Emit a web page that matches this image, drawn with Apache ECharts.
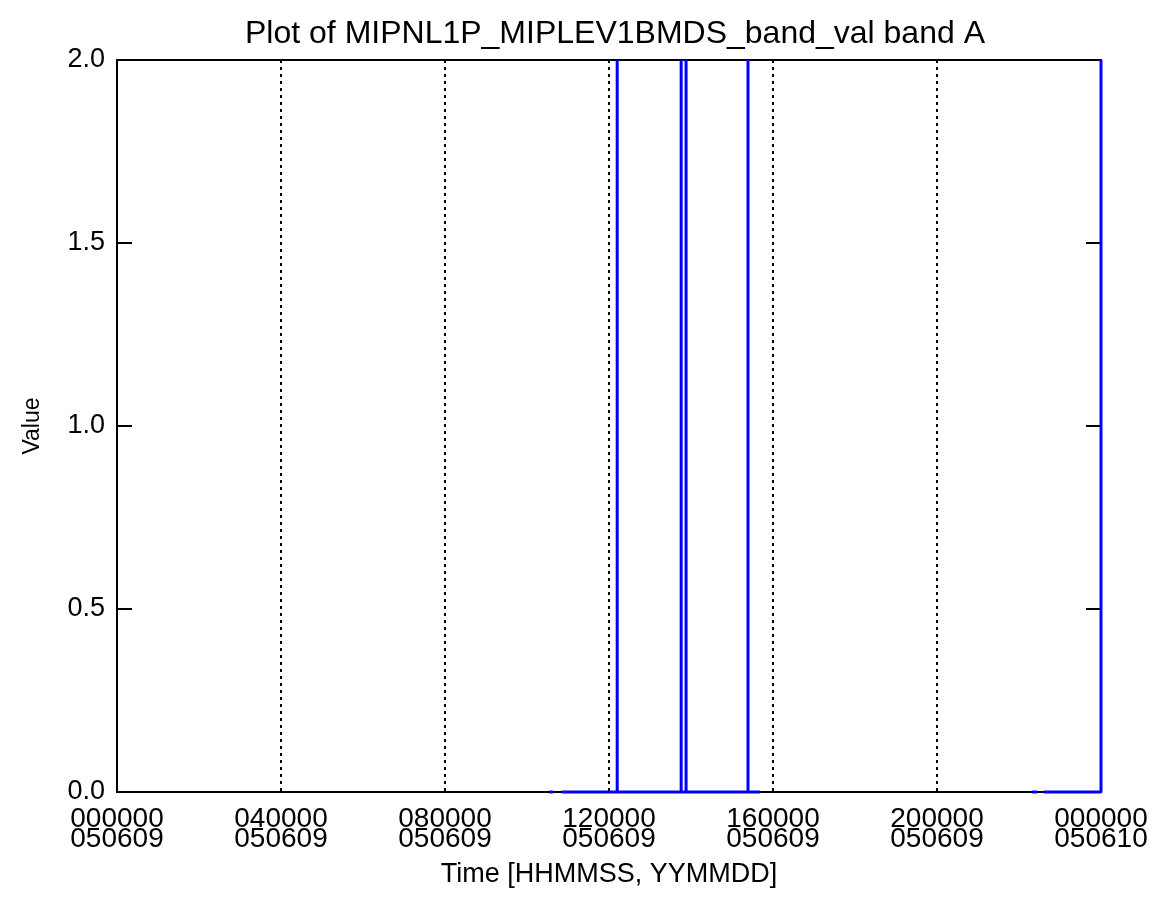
<!DOCTYPE html>
<html>
<head>
<meta charset="utf-8">
<script src="https://cdn.jsdelivr.net/npm/echarts@6/dist/echarts.min.js"></script>
<style>
  html, body { margin: 0; padding: 0; background: #fff; }
  #chart { width: 1160px; height: 907px; }
</style>
</head>
<body>
<div id="chart"></div>
<script>
// time in hours since 000000 050609, null marks a gap in the record
const timeHours = [10.54, 10.63, null,
  10.85, 12.20, 12.20, 12.20, 13.76, 13.76, 13.76, 13.88, 13.88, 13.88,
  15.39, 15.39, 15.39, 15.68, null,
  22.32, 22.44, null,
  22.61, 24.0, 24.0]
const bandValues = [0, 0, null,
  0, 0, 2, 0, 0, 2, 0, 0, 2, 0,
  0, 2, 0, 0, null,
  0, 0, null,
  0, 0, 2]
const xTickLabels = ['000000\n050609', '040000\n050609', '080000\n050609', '120000\n050609',
  '160000\n050609', '200000\n050609', '000000\n050610']
const yTickLabels = ['0.0', '0.5', '1.0', '1.5', '2.0']

const fontFamily = 'Liberation Sans'
const chart = echarts.init(document.getElementById('chart'))

const seriesData = timeHours.map((t, i) => (t === null ? '-' : [t, bandValues[i]]))

const frameLine = { show: true, onZero: false, lineStyle: { color: '#000', width: 2 } }

const option = {
  animation: false,
  backgroundColor: '#fff',
  title: {
    text: 'Plot of MIPNL1P_MIPLEV1BMDS_band_val band A',
    left: 610,
    textAlign: 'center',
    top: 13,
    textStyle: { fontFamily: fontFamily, fontWeight: 'normal', fontSize: 32, color: '#000' }
  },
  grid: { left: 117, right: 59, top: 60, bottom: 115 },
  xAxis: [
    {
      type: 'value',
      min: 0,
      max: 24,
      interval: 4,
      name: 'Time [HHMMSS, YYMMDD]',
      nameLocation: 'middle',
      nameGap: 69,
      nameTextStyle: { fontFamily: fontFamily, fontSize: 27, color: '#000' },
      axisLine: frameLine,
      axisTick: { show: false },
      axisLabel: {
        fontFamily: fontFamily,
        fontSize: 28,
        lineHeight: 20,
        color: '#000',
        margin: 17,
        formatter: v => xTickLabels[Math.round(v / 4)]
      },
      splitLine: { show: true, lineStyle: { color: '#000', width: 2, type: [3, 4] } }
    },
    {
      type: 'value',
      position: 'top',
      min: 0,
      max: 24,
      interval: 4,
      axisLine: frameLine,
      axisTick: { show: false },
      axisLabel: { show: false },
      splitLine: { show: false }
    }
  ],
  yAxis: [
    {
      type: 'value',
      min: 0,
      max: 2,
      interval: 0.5,
      name: 'Value',
      nameLocation: 'middle',
      nameGap: 73,
      nameTextStyle: { fontFamily: fontFamily, fontSize: 23, color: '#000' },
      axisLine: frameLine,
      axisTick: { show: true, inside: true, length: 15, lineStyle: { color: '#000', width: 2 } },
      axisLabel: {
        fontFamily: fontFamily,
        fontSize: 27,
        color: '#000',
        margin: 12,
        formatter: v => yTickLabels[Math.round(v / 0.5)]
      },
      splitLine: { show: false }
    },
    {
      type: 'value',
      position: 'right',
      min: 0,
      max: 2,
      interval: 0.5,
      axisLine: frameLine,
      axisTick: { show: true, inside: true, length: 15, lineStyle: { color: '#000', width: 2 } },
      axisLabel: { show: false },
      splitLine: { show: false }
    }
  ],
  series: [
    {
      type: 'line',
      data: seriesData,
      showSymbol: false,
      connectNulls: false,
      clip: false,
      z: 5,
      lineStyle: { color: '#0000ff', width: 3 }
    }
  ]
}
chart.setOption(option)
</script>
</body>
</html>
